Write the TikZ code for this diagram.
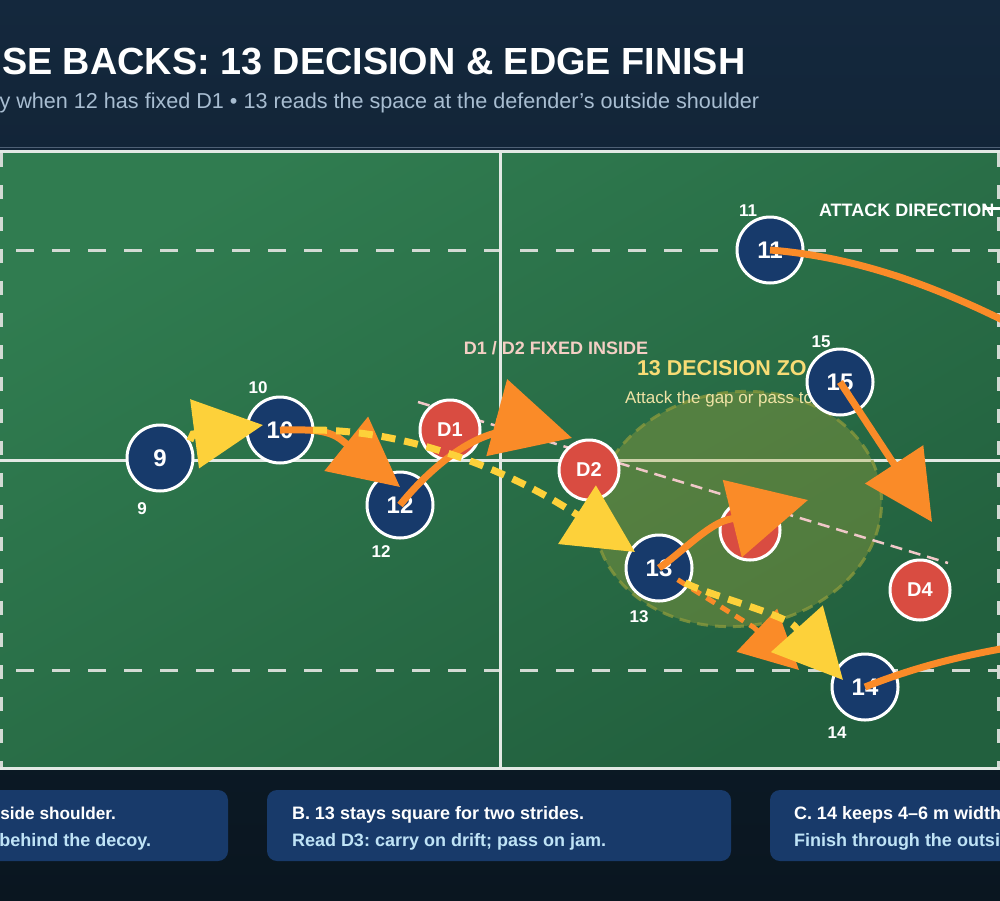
\documentclass[tikz,border=0pt]{standalone}
\usepackage{fontspec}
\setmainfont{Liberation Sans}
\usetikzlibrary{arrows.meta}
\frenchspacing
\definecolor{bgtop}{HTML}{14283D}
\definecolor{bgbot}{HTML}{0A1620}
\definecolor{fieldA}{HTML}{307C50}
\definecolor{fieldB}{HTML}{22603E}
\definecolor{navy}{HTML}{173A6B}
\definecolor{dred}{HTML}{D94C41}
\definecolor{pyel}{HTML}{FDD13A}
\definecolor{porg}{HTML}{FA8B28}
\definecolor{subgrey}{HTML}{A8BDD1}
\definecolor{pinktxt}{HTML}{F4CFC4}
\definecolor{pinkline}{HTML}{F0C8C8}
\definecolor{zonetxt}{HTML}{F8DC75}
\definecolor{zonesub}{HTML}{EFE3A5}
\definecolor{zonefill}{HTML}{A8A83A}
\definecolor{zoneedge}{HTML}{8C9A3C}
\definecolor{linew}{HTML}{E2E9E4}
\definecolor{dashw}{HTML}{D3DAD4}
\definecolor{cardfill}{HTML}{183A6A}
\definecolor{cardsub}{HTML}{BFE3F6}
\definecolor{sepline}{HTML}{4E6075}
\tikzset{
  fs/.style={font=\fontsize{#1}{#1}\selectfont},
  bfs/.style={font=\bfseries\fontsize{#1}{#1}\selectfont},
  player/.style={circle, fill=navy, draw=white, line width=3pt, minimum size=66pt, inner sep=0pt, text=white, bfs=24},
  defender/.style={circle, fill=dred, draw=white, line width=3pt, minimum size=60pt, inner sep=0pt, text=white, bfs=20},
  numlbl/.style={text=white, bfs=17},
  plain/.style={inner sep=0pt, outer sep=0pt},
  fieldline/.style={draw=linew, line width=3pt},
  hdash/.style={draw=dashw, line width=3pt, dash pattern=on 18pt off 18pt},
  vdash/.style={draw=dashw, line width=3pt, dash pattern=on 14pt off 18pt},
  runline/.style={draw=porg, line width=7pt},
  passline/.style={draw=pyel, line width=7pt},
  dashpass/.style={draw=pyel, line width=7pt, dash pattern=on 14pt off 9pt},
  dashrun/.style={draw=porg, line width=5pt, dash pattern=on 10pt off 7pt},
  headL/.style={-{Triangle[length=78pt,width=78pt]}},
  headM/.style={-{Triangle[length=69pt,width=68pt]}},
  headS/.style={-{Triangle[length=58pt,width=58pt]}},
  cardbox/.style={fill=cardfill, rounded corners=10pt},
  cardone/.style={plain, text=white, bfs=18, anchor=base west},
  cardtwo/.style={plain, text=cardsub, bfs=18, anchor=base west},
}
\begin{document}
\begin{tikzpicture}[x=1pt, y=-1pt]
\useasboundingbox (0,0) rectangle (1000,900);
\clip (0,0) rectangle (1000,900);
% background
\shade[top color=bgtop, bottom color=bgbot] (0,0) rectangle (1000,900);
\draw[sepline, line width=1pt] (0,147.5) -- (1000,147.5);
% header
\node[plain, anchor=base west, text=white, bfs=37.8] (title) at (2,74) {SE BACKS: 13 DECISION \& EDGE FINISH};
\node[plain, anchor=base west, text=subgrey, fs=21.6] (subtitle) at (-0.5,108) {y when 12 has fixed D1 • 13 reads the space at the defender’s outside shoulder};
% field
\shade[top color=fieldA, bottom color=fieldB, shading angle=30] (0,151) rectangle (1000,768);
\draw[hdash] (16,250) -- (500,250);
\draw[hdash] (520,250) -- (1000,250);
\draw[hdash] (16,670) -- (500,670);
\draw[hdash] (520,670) -- (1000,670);
\draw[vdash] (1.5,153) -- (1.5,768);
\draw[vdash] (998.5,153) -- (998.5,768);
\draw[fieldline] (0,460) -- (1000,460);
\draw[fieldline] (500,151) -- (500,768);
\draw[fieldline] (0,151) -- (1000,151);
\draw[fieldline] (0,768) -- (1000,768);
% decision zone
\draw[fill=zonefill, fill opacity=0.35, draw=zoneedge, draw opacity=0.75, line width=3pt, dash pattern=on 11pt off 7pt, rotate around={8:(738,509)}] (738,509) ellipse [x radius=144, y radius=117];
% texts on field
\node[plain, text=pinktxt, bfs=18] (fixed) at (556,348) {D1 / D2 FIXED INSIDE};
\node[plain, anchor=west, text=zonetxt, bfs=21.5] (zone) at (637,368) {13 DECISION ZO};
\node[plain, anchor=base west, text=zonesub, fs=17] (zonesub) at (625,403) {Attack the gap or pass to};
\node[plain, anchor=west, text=white, bfs=18] (attack) at (819,210) {ATTACK DIRECTION};
\coordinate (ad1) at (983,208);
\coordinate (ad2) at (1020,208);
\draw[white, line width=3pt, -{Triangle[length=10pt,width=10pt]}] (ad1) -- (ad2);
% defensive line
\coordinate (pk1) at (418,402);
\coordinate (pk2) at (948,563);
\draw[pinkline, line width=2.5pt, dash pattern=on 12pt off 7pt] (pk1) -- (pk2);
% players
\node[player] (p9) at (160,458) {9};
\node[player] (p10) at (280,430) {10};
\node[player] (p12) at (400,505) {12};
\node[player] (p11) at (770,250) {11};
\node[player] (p15) at (840,382) {15};
\node[player] (p13) at (659,568) {13};
\node[player] (p14) at (865,687) {14};
\node[defender] (d1) at (450,430) {D1};
\node[defender] (d2) at (589,470) {D2};
\node[defender] (d3) at (750,530) {D3};
\node[defender] (d4) at (920,590) {D4};
\node[numlbl] (l9) at (142,509) {9};
\node[numlbl] (l10) at (258,388) {10};
\node[numlbl] (l12) at (381,552) {12};
\node[numlbl] (l11) at (748,211) {11};
\node[numlbl] (l15) at (821,342) {15};
\node[numlbl] (l13) at (639,617) {13};
\node[numlbl] (l14) at (837,733) {14};
% orange runs
\coordinate (e9) at (1060,350);
\draw[runline] (p11.center) .. controls (870,258) and (960,295) .. (e9);
\coordinate (e10) at (1060,640);
\draw[runline] (p14.center) .. controls (920,665) and (980,650) .. (e10);
\coordinate (t8) at (932,522);
\draw[runline, headM] (p15.center) -- (t8);
\coordinate (b2) at (342.3,440.6);
\coordinate (t2) at (400,487);
\draw[runline, headM] (p10.center) .. controls (305,430) and (327,428) .. (b2) -- (t2);
\coordinate (x4) at (500,432);
\coordinate (b4) at (499.6,418.4);
\coordinate (t4) at (572,438);
\draw[runline, headL] (p12.center) .. controls (420,480) and (460,440) .. (x4) -- (b4) -- (t4);
\coordinate (b5) at (727.4,519.8);
\coordinate (t5) at (808,500);
\draw[runline, headL] (p13.center) .. controls (679,554.6) and (708,524.6) .. (b5) -- (t5);
\coordinate (b7) at (753.9,627.5);
\coordinate (t7) at (799,670);
\draw[dashrun, headS, shorten <=22pt] (p13.center) -- (b7) -- (t7);
% yellow passes
\coordinate (b1) at (193,434);
\coordinate (t1) at (263,425);
\draw[passline, headM] (p9.30) -- (b1) -- (t1);
\coordinate (b3) at (573.6,512.5);
\coordinate (t3) at (635,552);
\draw[dashpass, headM, shorten <=33pt] (p10.center) .. controls (400,430) and (498,464) .. (b3) -- (t3);
\coordinate (b6) at (794.2,625.8);
\coordinate (t6) at (843,680);
\draw[dashpass, headM, shorten <=30pt] (p13.center) .. controls (703,593) and (784,614.7) .. (b6) -- (t6);
% cards
\fill[cardbox] (-20,790) rectangle (228,861);
\fill[cardbox] (267,790) rectangle (731,861);
\fill[cardbox] (770,790) rectangle (1020,861);
\node[cardone, anchor=base east, bfs=17.2] (ca1) at (116,819) {side shoulder.};
\node[cardtwo, anchor=base east] (ca2) at (151,846) {behind the decoy.};
\node[cardone] (cb1) at (292,819) {B. 13 stays square for two strides.};
\node[cardtwo] (cb2) at (292,846) {Read D3: carry on drift; pass on jam.};
\node[cardone] (cc1) at (794,819) {C. 14 keeps 4–6 m width};
\node[cardtwo] (cc2) at (794,846) {Finish through the outsi};
\end{tikzpicture}
\end{document}
